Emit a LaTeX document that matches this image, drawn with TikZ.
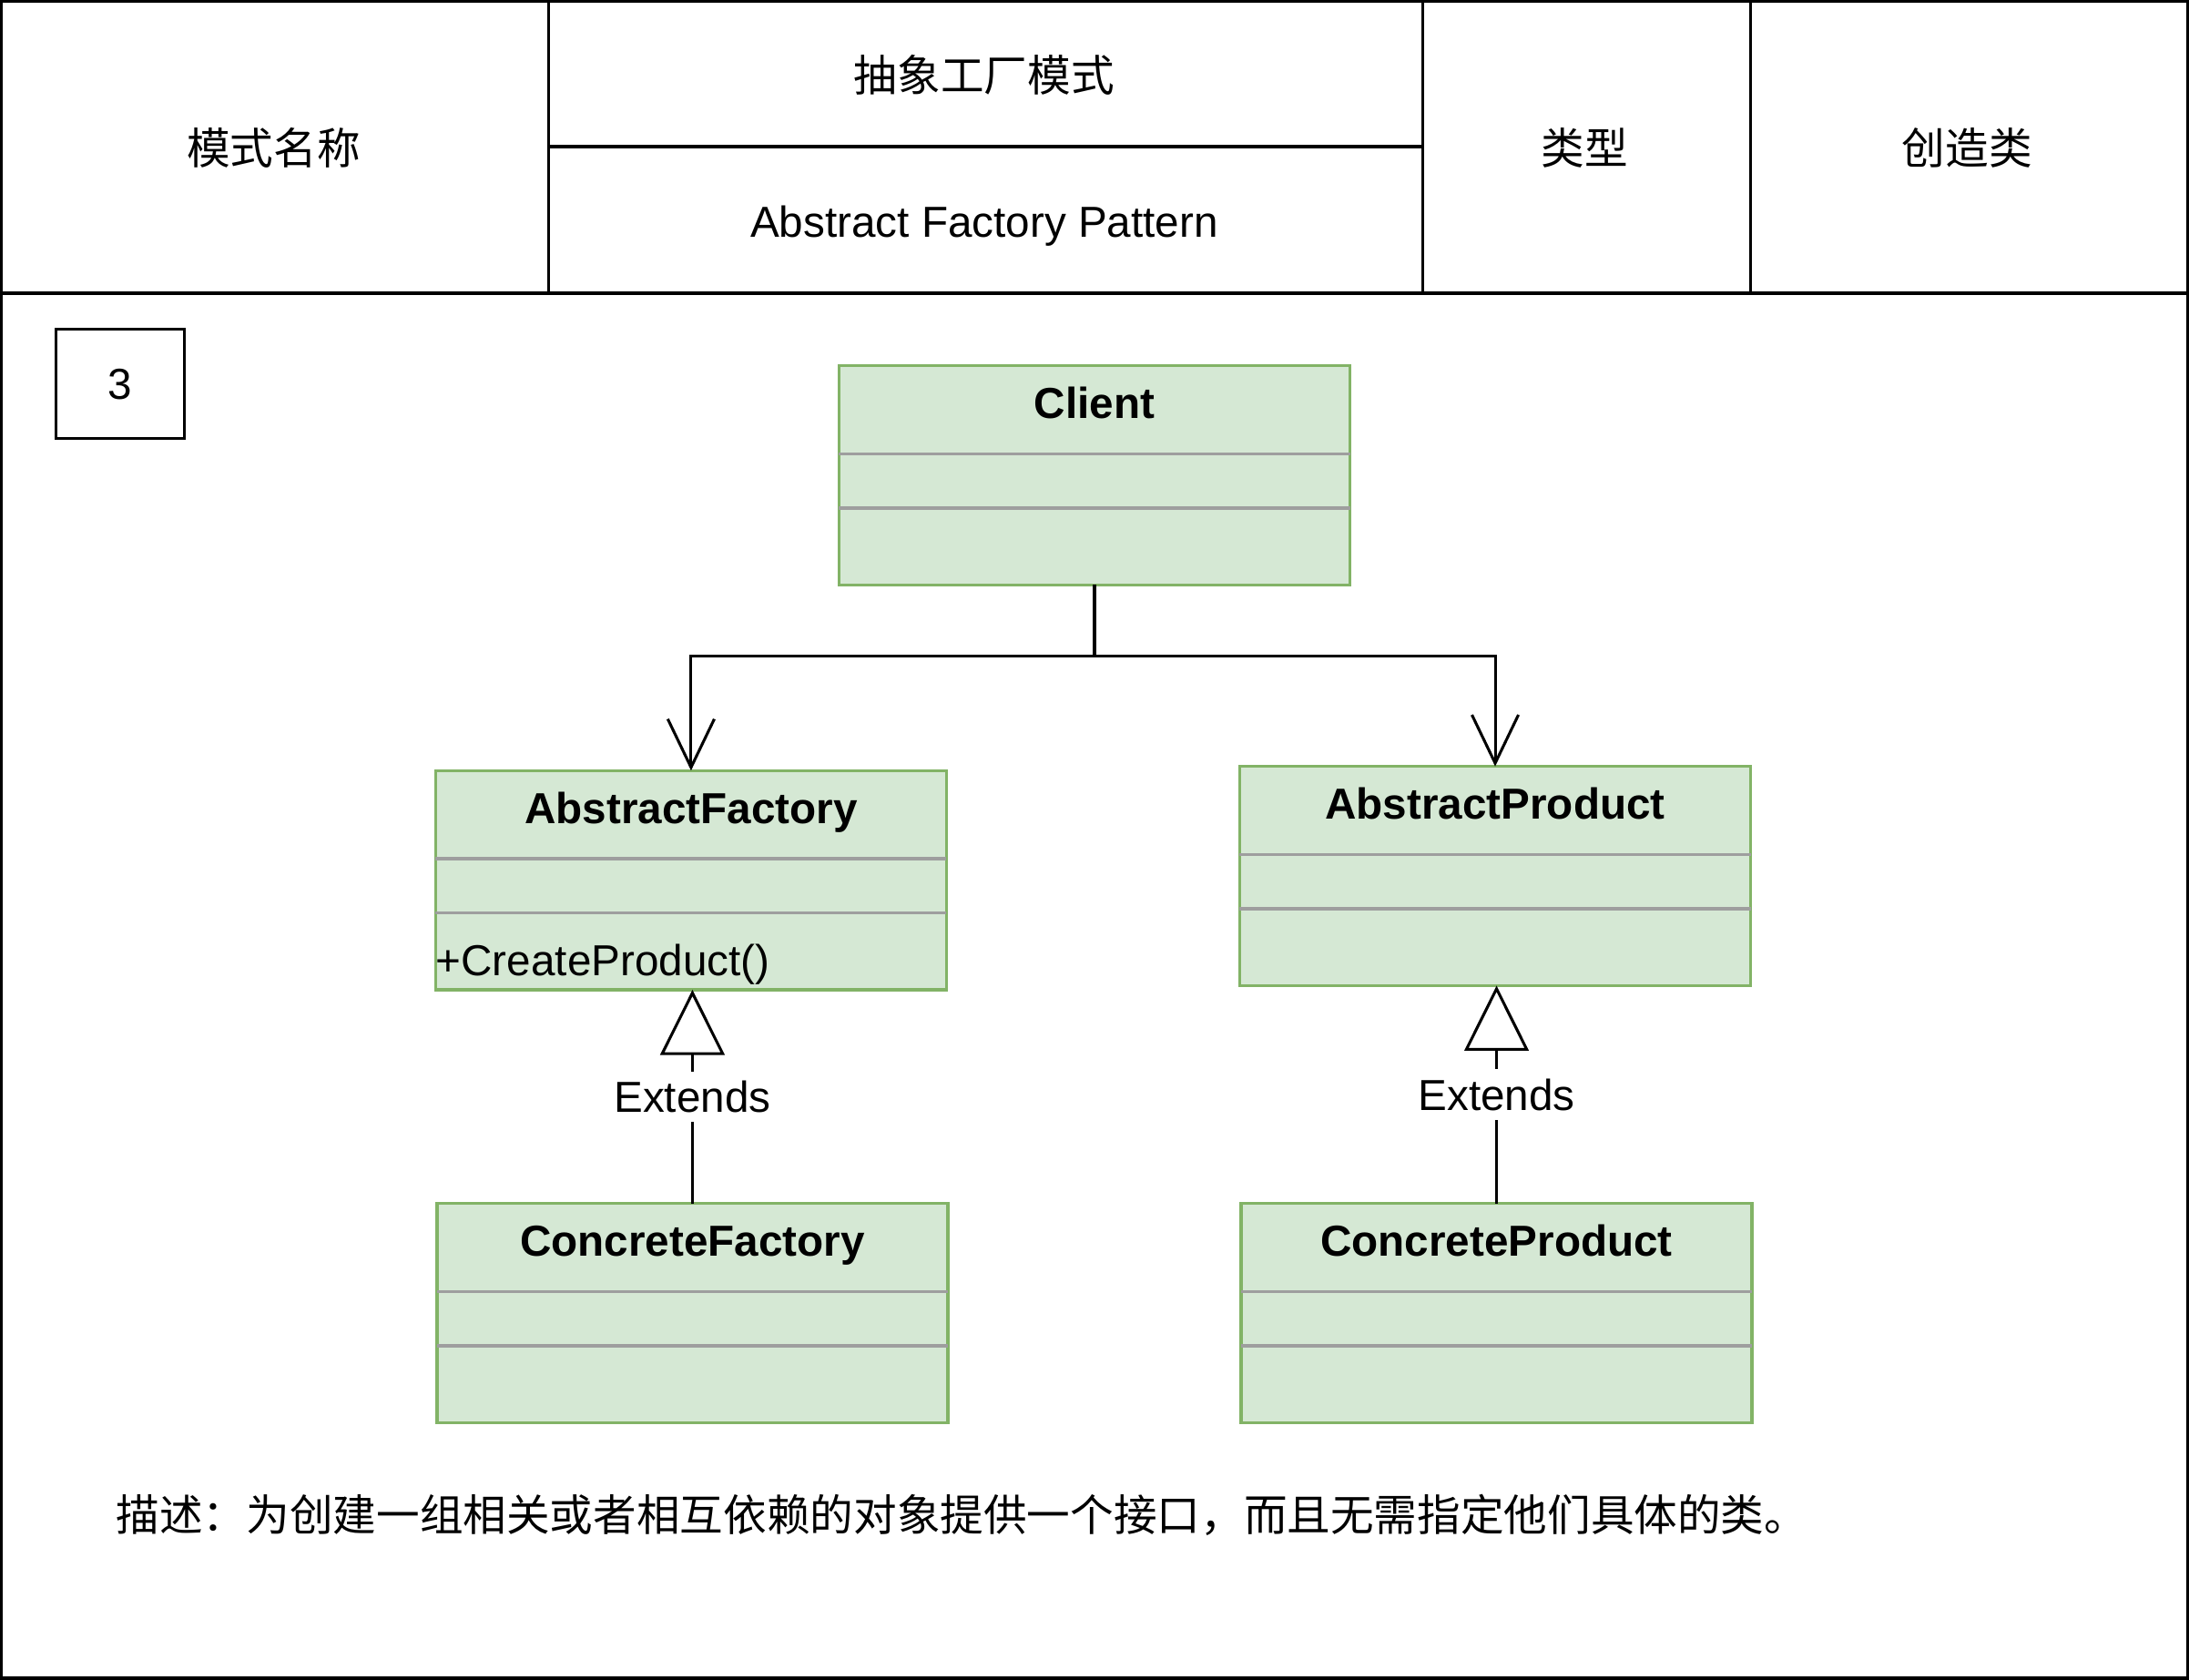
\documentclass[tikz,border=0pt]{standalone}
\usepackage{fontspec}
\setmainfont{Liberation Sans}
\newfontfamily\cjk{Noto Sans CJK SC}
\usetikzlibrary{arrows.meta,calc}
\definecolor{gfill}{HTML}{D5E8D4}
\definecolor{gline}{HTML}{82B366}
\definecolor{sepgray}{HTML}{9E9E9E}
\newcommand\classseps[1]{%
  \draw[sep] ($(#1.north west)+(0,63)$) -- ($(#1.north east)+(0,63)$);
  \draw[sep] ($(#1.north west)+(0,102)$) -- ($(#1.north east)+(0,102)$);}
\begin{document}
\begin{tikzpicture}[x=0.75pt,y=-0.75pt,
  txt/.style={font=\fontsize{23.3pt}{28pt}\selectfont, inner sep=0pt},
  ctxt/.style={font=\cjk\fontsize{23.3pt}{28pt}\selectfont, inner sep=0pt},
  grid/.style={draw=black, line width=1.6pt},
  cls/.style={draw=gline, fill=gfill, line width=1.7pt, minimum width=274.5pt, minimum height=117.75pt, inner sep=0pt, outer sep=0pt, anchor=north west},
  ttl/.style={font=\bfseries\fontsize{23.3pt}{28pt}\selectfont, inner sep=0pt, anchor=base},
  sep/.style={draw=sepgray, line width=1.6pt},
  conn/.style={draw=black, line width=1.5pt},
  openv/.style={conn, -{Straight Barb[length=26pt,width=25pt,line width=1.5pt]}},
  ext/.style={conn, -{Triangle[open,fill=white,length=35pt,width=34.5pt,line width=1.5pt]}},
  lbl/.style={font=\fontsize{23.3pt}{28pt}\selectfont, fill=white, inner xsep=2pt, inner ysep=5pt}]
\useasboundingbox (0,0) rectangle (1568,1203);
% table frame
\draw[grid] (1,1) rectangle (1567,1202);
\draw[grid] (1,210) -- (1567,210);
\draw[grid] (393,1) -- (393,210);
\draw[grid] (1019,1) -- (1019,210);
\draw[grid] (1254,1) -- (1254,210);
\draw[grid] (393,105) -- (1019,105);
% header texts
\node[ctxt] (hname) at (196,106) {模式名称};
\node[ctxt] (hcn) at (705,54) {抽象工厂模式};
\node[txt, anchor=base] (hen) at (705,170) {Abstract Factory Pattern};
\node[ctxt] (htype) at (1135,106) {类型};
\node[ctxt] (hkind) at (1409,106) {创造类};
% number box
\node[draw, line width=1.6pt, minimum width=69pt, minimum height=58.5pt, txt] (num) at (86,275) {3};
% classes
\node[cls] (client) at (601,262) {};
\node[cls] (af) at (312,552) {};
\node[cls] (ap) at (888,549) {};
\node[cls] (cf) at (313,862) {};
\node[cls] (cp) at (889,862) {};
\classseps{client}
\classseps{af}
\classseps{ap}
\classseps{cf}
\classseps{cp}
\node[ttl] (clientT) at ($(client.north)+(0,38)$) {Client};
\node[ttl] (afT) at ($(af.north)+(0,38)$) {AbstractFactory};
\node[ttl] (apT) at ($(ap.north)+(0,38)$) {AbstractProduct};
\node[ttl] (cfT) at ($(cf.north)+(0,38)$) {ConcreteFactory};
\node[ttl] (cpT) at ($(cp.north)+(0,38)$) {ConcreteProduct};
\node[txt, anchor=base west] (afm) at ($(af.north west)+(0,147)$) {+CreateProduct()};
% connectors
\coordinate (j) at ($(client.south)+(0,51)$);
\draw[conn] (client.south) -- (j);
\draw[openv] (j) -| (af.north);
\draw[openv] (j) -| (ap.north);
\draw[ext] (cf.north) -- node[lbl] (e1) {Extends} (cf.north |- af.south);
\draw[ext] (cp.north) -- node[lbl] (e2) {Extends} (cp.north |- ap.south);
% description
\node[ctxt, anchor=west] (desc) at (83,1085) {描述：为创建一组相关或者相互依赖的对象提供一个接口，而且无需指定他们具体的类。};
\end{tikzpicture}
\end{document}
